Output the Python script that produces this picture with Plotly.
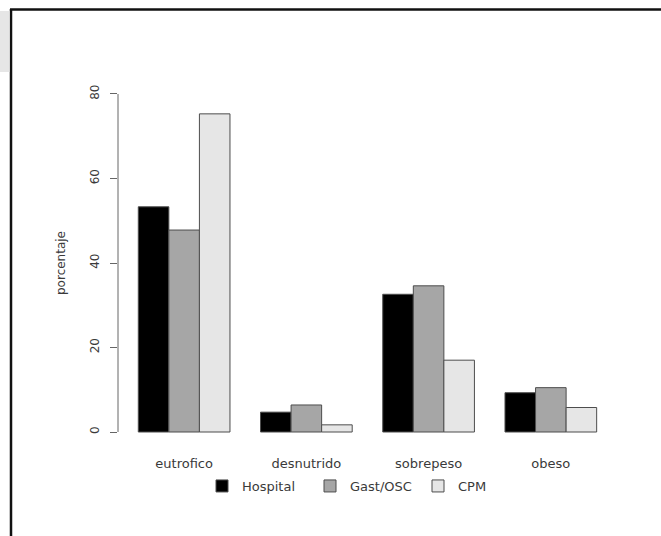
import plotly.graph_objects as go

categories = ["eutrofico", "desnutrido", "sobrepeso", "obeso"]
series_names = ["Hospital", "Gast/OSC", "CPM"]
hospital = [53.3, 4.7, 32.6, 9.3]
gast_osc = [47.8, 6.4, 34.6, 10.5]
cpm = [75.3, 1.7, 17.0, 5.8]
y_ticks = [0, 20, 40, 60, 80]

values = [hospital, gast_osc, cpm]
colors = ["#000000", "#a6a6a6", "#e6e6e6"]

W, H = 661, 536
ML, MR, MT, MB = 118, 46, 80, 90
PW, PH = W - ML - MR, H - MT - MB

def px(x):
    return (x - ML) / PW

def py(y):
    return (H - MB - y) / PH

fig = go.Figure()
for name, vals, col in zip(series_names, values, colors):
    fig.add_trace(go.Bar(
        x=categories, y=vals, name=name,
        marker=dict(color=col, line=dict(color="#4d4d4d", width=1)),
    ))

fam = "DejaVu Sans, Liberation Sans, Arial, sans-serif"
txt = "#3a3a3a"

fig.update_layout(
    width=W, height=H,
    margin=dict(l=ML, r=MR, t=MT, b=MB, pad=0),
    paper_bgcolor="white", plot_bgcolor="white",
    barmode="group", bargap=0.25, bargroupgap=0,
    font=dict(family=fam, size=13, color=txt),
    showlegend=True,
    legend=dict(orientation="h", x=px(202), y=py(486), xanchor="left", yanchor="middle",
                font=dict(family=fam, size=13, color=txt),
                itemwidth=30, entrywidth=63, entrywidthmode="pixels",
                traceorder="normal", bgcolor="rgba(0,0,0,0)"),
    xaxis=dict(range=[-0.541, 3.525], showline=False, showgrid=False, zeroline=False,
               ticks="", ticklabelstandoff=8, tickfont=dict(family=fam, size=13, color=txt)),
    yaxis=dict(range=[-3.31, 83.31], showline=False, showgrid=False, zeroline=False,
               tickmode="array", tickvals=y_ticks, ticktext=[str(v) for v in y_ticks],
               ticks="outside", ticklen=7, tickcolor="#666666", tickwidth=1,
               tickangle=-90, ticklabelstandoff=6,
               tickfont=dict(family=fam, size=12, color=txt),
               title=dict(text="porcentaje", standoff=20, font=dict(family=fam, size=12, color=txt))),
    shapes=[
        # R-style y axis line spanning the tick range
        dict(type="line", xref="paper", yref="y", x0=0, x1=0, y0=y_ticks[0], y1=y_ticks[-1],
             line=dict(color="#666666", width=1)),
        # outer frame (top and left)
        dict(type="line", xref="paper", yref="paper", x0=px(10), x1=px(661), y0=py(9.5), y1=py(9.5),
             line=dict(color="#111111", width=2.5)),
        dict(type="line", xref="paper", yref="paper", x0=px(11), x1=px(11), y0=py(9), y1=py(536),
             line=dict(color="#111111", width=2.5)),
        # grey tab in the top-left corner
        dict(type="rect", xref="paper", yref="paper", x0=px(0), x1=px(9.5), y0=py(11), y1=py(72),
             fillcolor="#e6e6e6", line=dict(width=0)),
    ],
)

fig.write_html("out.html")
